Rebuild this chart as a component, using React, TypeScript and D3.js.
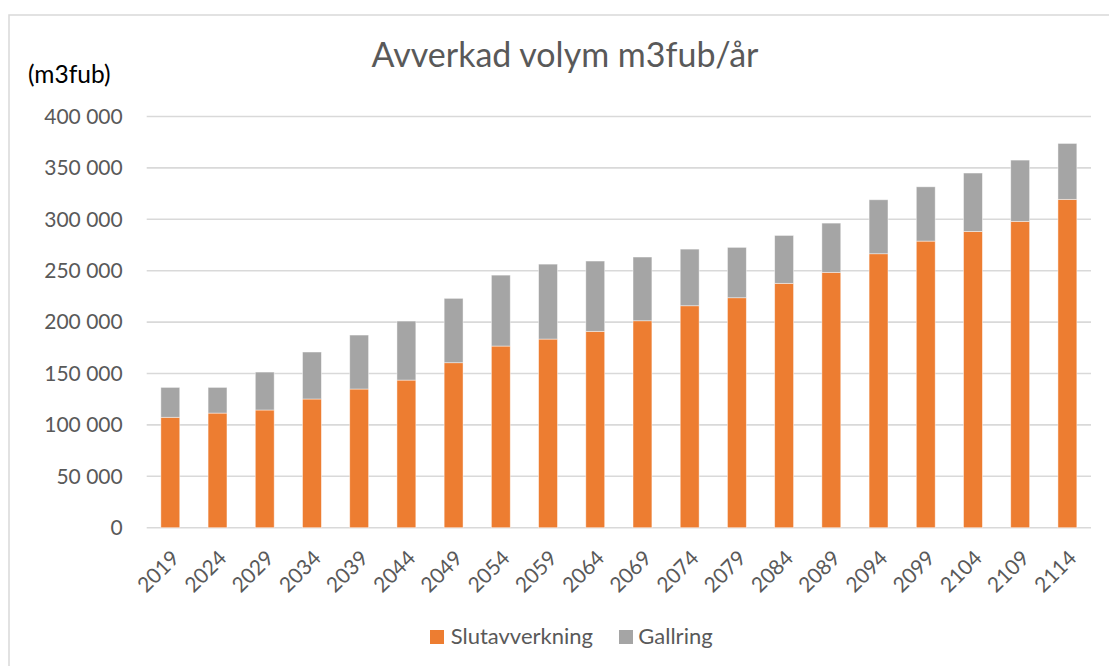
import React from "react";
import * as d3 from "d3";

const years = ["2019","2024","2029","2034","2039","2044","2049","2054","2059","2064","2069","2074","2079","2084","2089","2094","2099","2104","2109","2114"];
const slutavverkning = [107400,111500,114500,125200,134900,143600,160500,176700,183500,191000,201300,215900,223700,237700,248400,266500,278800,288200,298000,319400];
const totals = [136500,136500,151400,170900,187400,201000,223100,245700,256400,259400,263300,271000,272700,284300,296300,319000,331600,345000,357600,373800];
const gallring = totals.map((t, i) => t - slutavverkning[i]);
const yTicks = [0,50000,100000,150000,200000,250000,300000,350000,400000];

const W = 1109, H = 666;
const FONT = "Lato, 'Open Sans', sans-serif";
const ORANGE = "#ED7D31";
const GRAY = "#A5A5A5";
const TXT = "#595959";

export default function App() {
  const x = d3.scaleBand<string>().domain(years).range([146.7, 1091]).paddingInner(0.6).paddingOuter(0.3);
  const y = d3.scaleLinear().domain([0, 400000]).range([527.7, 116.5]);
  const fmt = (v: number) => d3.format(",")(v).replace(/,/g, " ");
  const stack = d3.stack<any>().keys(["s", "g"])(years.map((yr, i) => ({ yr, s: slutavverkning[i], g: gallring[i] })));
  const colors = [ORANGE, GRAY];
  return (
    <div style={{ position: "absolute", left: 0, top: 0 }}>
      <svg width={W} height={H} style={{ display: "block", background: "#fff" }}>
        <rect x={9} y={15} width={1120} height={700} fill="#fff" stroke="#d9d9d9" strokeWidth={1.5} />
        <text x={565} y={67} textAnchor="middle" fontFamily={FONT} fontSize={34} fill={TXT}>Avverkad volym m3fub/år</text>
        <text x={28} y={83} fontFamily={FONT} fontSize={24.5} fill="#000">(m3fub)</text>
        {yTicks.map(t => (
          <g key={t}>
            <line x1={146.7} x2={1091} y1={y(t)} y2={y(t)} stroke="#d9d9d9" strokeWidth={1.6} />
            <text x={122.7} y={y(t)} dy="0.35em" textAnchor="end" fontFamily={FONT} fontSize={21} fill={TXT}>{fmt(t)}</text>
          </g>
        ))}
        {stack.map((layer, li) => (
          <g key={li}>
            {layer.map((d: any, i: number) => (
              <rect key={i} x={x(years[i])} width={x.bandwidth()} y={y(d[1])} height={y(d[0]) - y(d[1])}
                fill={colors[li]} stroke="rgba(255,255,255,0.55)" strokeWidth={0.8} />
            ))}
          </g>
        ))}
        {years.map(yr => {
          const cx = (x(yr) as number) + x.bandwidth() / 2;
          return (
            <text key={yr} transform={`translate(${cx},${549}) rotate(-45)`} textAnchor="end" dy="0.7em"
              fontFamily={FONT} fontSize={21} fill={TXT}>{yr}</text>
          );
        })}
        <rect x={430} y={630} width={14} height={14} fill={ORANGE} />
        <text x={450.7} y={644} fontFamily={FONT} fontSize={22} fill={TXT}>Slutavverkning</text>
        <rect x={619} y={630} width={14} height={14} fill={GRAY} />
        <text x={638.3} y={644} fontFamily={FONT} fontSize={22} fill={TXT}>Gallring</text>
      </svg>
    </div>
  );
}
